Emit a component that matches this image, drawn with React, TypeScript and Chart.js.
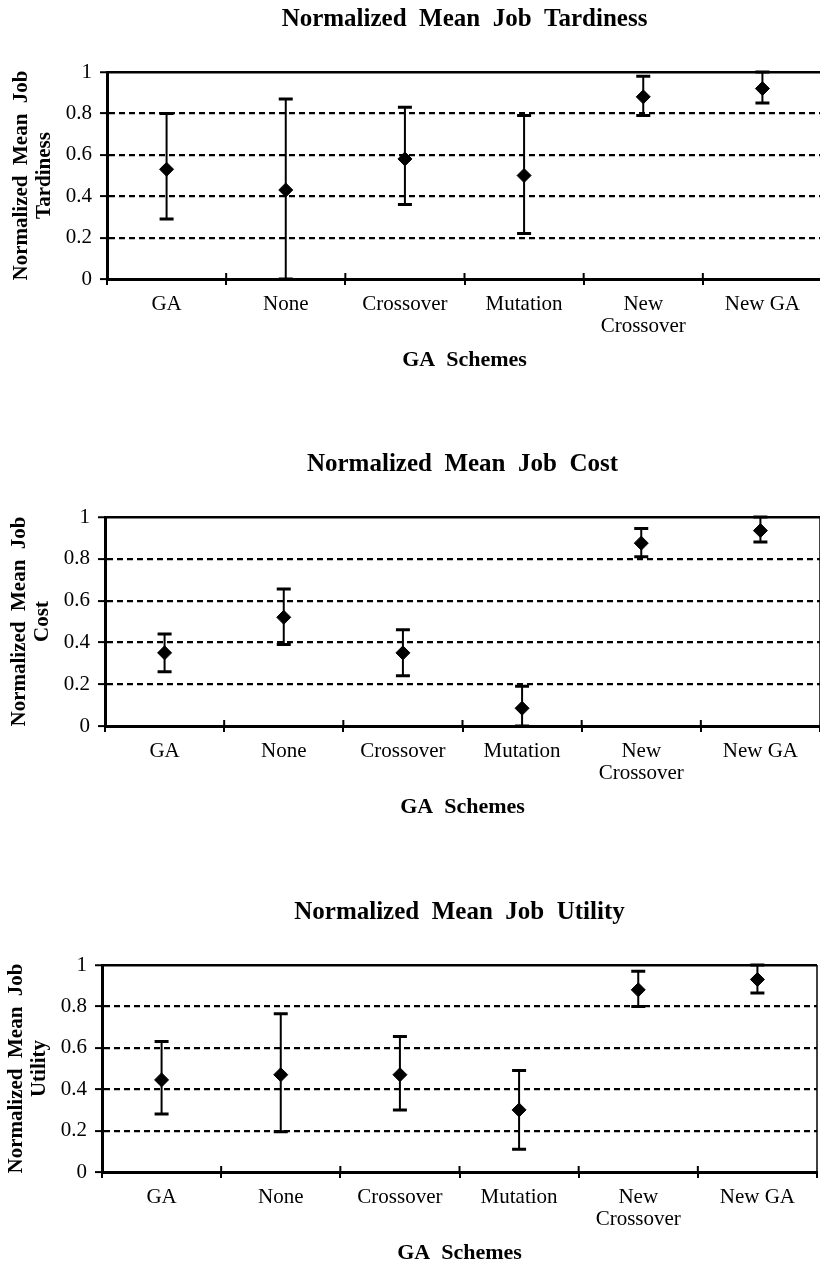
import React, { useEffect, useRef } from "react";
import { Chart, registerables } from "chart.js";

Chart.register(...registerables);

// ---- data ----
const schemes: (string | string[])[] = ["GA", "None", "Crossover", "Mutation", ["New", "Crossover"], "New GA"];
const yTicks = [0, 0.2, 0.4, 0.6, 0.8, 1];

const tardinessMean = [0.53, 0.43, 0.58, 0.5, 0.88, 0.92];
const tardinessLow = [0.29, 0.0, 0.36, 0.22, 0.79, 0.85];
const tardinessHigh = [0.8, 0.87, 0.83, 0.79, 0.98, 1.0];

const costMean = [0.35, 0.52, 0.35, 0.085, 0.875, 0.935];
const costLow = [0.26, 0.39, 0.24, 0.0, 0.81, 0.88];
const costHigh = [0.44, 0.655, 0.46, 0.19, 0.945, 1.0];

const utilityMean = [0.445, 0.47, 0.47, 0.3, 0.88, 0.93];
const utilityLow = [0.28, 0.195, 0.3, 0.11, 0.8, 0.865];
const utilityHigh = [0.63, 0.765, 0.655, 0.49, 0.97, 1.0];

const FONT = '"Liberation Serif", "Times New Roman", serif';
Chart.defaults.font.family = FONT;
Chart.defaults.color = "#000";

const CW = 830;
const CH = 400;

type Props = {
  title: string;
  yTitle: string[];
  mean: number[];
  low: number[];
  high: number[];
  top: number;
  left: number;
  plotH: number;
};

function ErrorChart({ title, yTitle, mean, low, high, top, left, plotH }: Props) {
  const ref = useRef<HTMLCanvasElement>(null);
  useEffect(() => {
    if (!ref.current) return;
    const xH = 99;
    const titleTop = 5;
    const titleLH = 25 * 1.2;
    const titleBottom = 72 - titleTop - titleLH;
    const padBottom = CH - 72 - xH - plotH;

    const errorBars = {
      id: "errorBars",
      beforeDatasetsDraw(chart: any) {
        const { ctx, chartArea, scales } = chart;
        const x = scales.x;
        const y = scales.y;
        ctx.save();
        ctx.strokeStyle = "#000";
        // right frame border
        ctx.lineWidth = 1.5;
        ctx.beginPath();
        ctx.moveTo(chartArea.right, chartArea.top);
        ctx.lineTo(chartArea.right, chartArea.bottom);
        ctx.stroke();
        // upward parts of x ticks at category boundaries
        ctx.lineWidth = 2;
        for (let i = 1; i < schemes.length; i++) {
          const bx = (x.getPixelForValue(i - 1) + x.getPixelForValue(i)) / 2;
          ctx.beginPath();
          ctx.moveTo(bx, chartArea.bottom - 6);
          ctx.lineTo(bx, chartArea.bottom);
          ctx.stroke();
        }
        for (let i = 0; i < mean.length; i++) {
          const px = x.getPixelForValue(i);
          const yl = y.getPixelForValue(low[i]);
          const yh = y.getPixelForValue(high[i]);
          ctx.lineWidth = 2;
          ctx.beginPath();
          ctx.moveTo(px, yl);
          ctx.lineTo(px, yh);
          ctx.stroke();
          ctx.lineWidth = 3;
          ctx.beginPath();
          ctx.moveTo(px - 7, yl);
          ctx.lineTo(px + 7, yl);
          ctx.moveTo(px - 7, yh);
          ctx.lineTo(px + 7, yh);
          ctx.stroke();
        }
        ctx.restore();
      },
    };

    const isOne = (v: number) => Math.abs(v - 1) < 1e-9;

    const chart = new Chart(ref.current, {
      type: "line",
      data: {
        labels: schemes as any,
        datasets: [
          {
            data: mean,
            showLine: false,
            pointStyle: "rectRot",
            pointRadius: 7,
            pointBackgroundColor: "#000",
            pointBorderColor: "#000",
            pointBorderWidth: 1,
            clip: false as any,
          },
        ],
      },
      options: {
        animation: false,
        responsive: false,
        events: [],
        layout: { padding: { left: 0, right: CW - 823, top: 0, bottom: padBottom } },
        plugins: {
          legend: { display: false },
          tooltip: { enabled: false },
          title: {
            display: true,
            text: title,
            fullSize: false,
            color: "#000",
            font: { size: 25, weight: "bold", lineHeight: 1.2, family: FONT },
            padding: { top: titleTop, bottom: titleBottom },
          },
        },
        scales: {
          x: {
            type: "category",
            offset: true,
            grid: {
              offset: true,
              drawOnChartArea: false,
              drawTicks: true,
              tickLength: 6,
              color: "#000",
              tickColor: "#000",
              tickWidth: 2,
              lineWidth: 2,
            },
            border: { display: true, color: "#000", width: 3 },
            ticks: {
              autoSkip: false,
              maxRotation: 0,
              minRotation: 0,
              padding: 8,
              color: "#000",
              font: { size: 21, lineHeight: 1.05, family: FONT },
            },
            title: {
              display: true,
              text: "GA  Schemes",
              color: "#000",
              font: { size: 22, weight: "bold", lineHeight: 1.2, family: FONT },
              padding: { top: 0, bottom: 4 },
            },
            afterFit: (scale: any) => {
              scale.height = xH;
            },
          },
          y: {
            min: 0,
            max: 1,
            afterBuildTicks: (scale: any) => {
              scale.ticks = yTicks.map((v) => ({ value: v }));
            },
            grid: {
              drawTicks: true,
              tickLength: 7,
              tickColor: "#000",
              tickWidth: 2,
              color: (c: any) => (c.tick && c.tick.value === 0 ? "rgba(0,0,0,0)" : "#000"),
              lineWidth: (c: any) => (c.tick && isOne(c.tick.value) ? 2.5 : 2.2),
            },
            border: {
              display: true,
              color: "#000",
              width: 3,
              dash: (c: any) => (c.tick && isOne(c.tick.value) ? [] : [6, 4]),
            },
            ticks: {
              padding: 8,
              color: "#000",
              font: { size: 21, family: FONT },
              callback: (v: any) => String(Number(v)),
            },
            title: {
              display: true,
              text: yTitle,
              color: "#000",
              font: { size: 21, weight: "bold", lineHeight: 1.1, family: FONT },
              padding: { top: 10, bottom: 0 },
            },
            afterFit: (scale: any) => {
              scale.width = 107;
            },
          },
        },
      } as any,
      plugins: [errorBars],
    });
    return () => chart.destroy();
  }, []);
  return (
    <canvas
      ref={ref}
      width={CW}
      height={CH}
      style={{ position: "absolute", left, top, width: CW, height: CH }}
    />
  );
}

export default function App() {
  return (
    <div
      style={{
        position: "absolute",
        left: 0,
        top: 0,
        width: 820,
        height: 1264,
        overflow: "hidden",
        background: "#fff",
      }}
    >
      <ErrorChart
        title="Normalized  Mean  Job  Tardiness"
        yTitle={["Normalized  Mean  Job", "Tardiness"]}
        mean={tardinessMean}
        low={tardinessLow}
        high={tardinessHigh}
        top={0}
        left={0}
        plotH={207}
      />
      <ErrorChart
        title="Normalized  Mean  Job  Cost"
        yTitle={["Normalized  Mean  Job", "Cost"]}
        mean={costMean}
        low={costLow}
        high={costHigh}
        top={445}
        left={-2}
        plotH={209}
      />
      <ErrorChart
        title="Normalized  Mean  Job  Utility"
        yTitle={["Normalized  Mean  Job", "Utility"]}
        mean={utilityMean}
        low={utilityLow}
        high={utilityHigh}
        top={893}
        left={-5}
        plotH={207}
      />
    </div>
  );
}
